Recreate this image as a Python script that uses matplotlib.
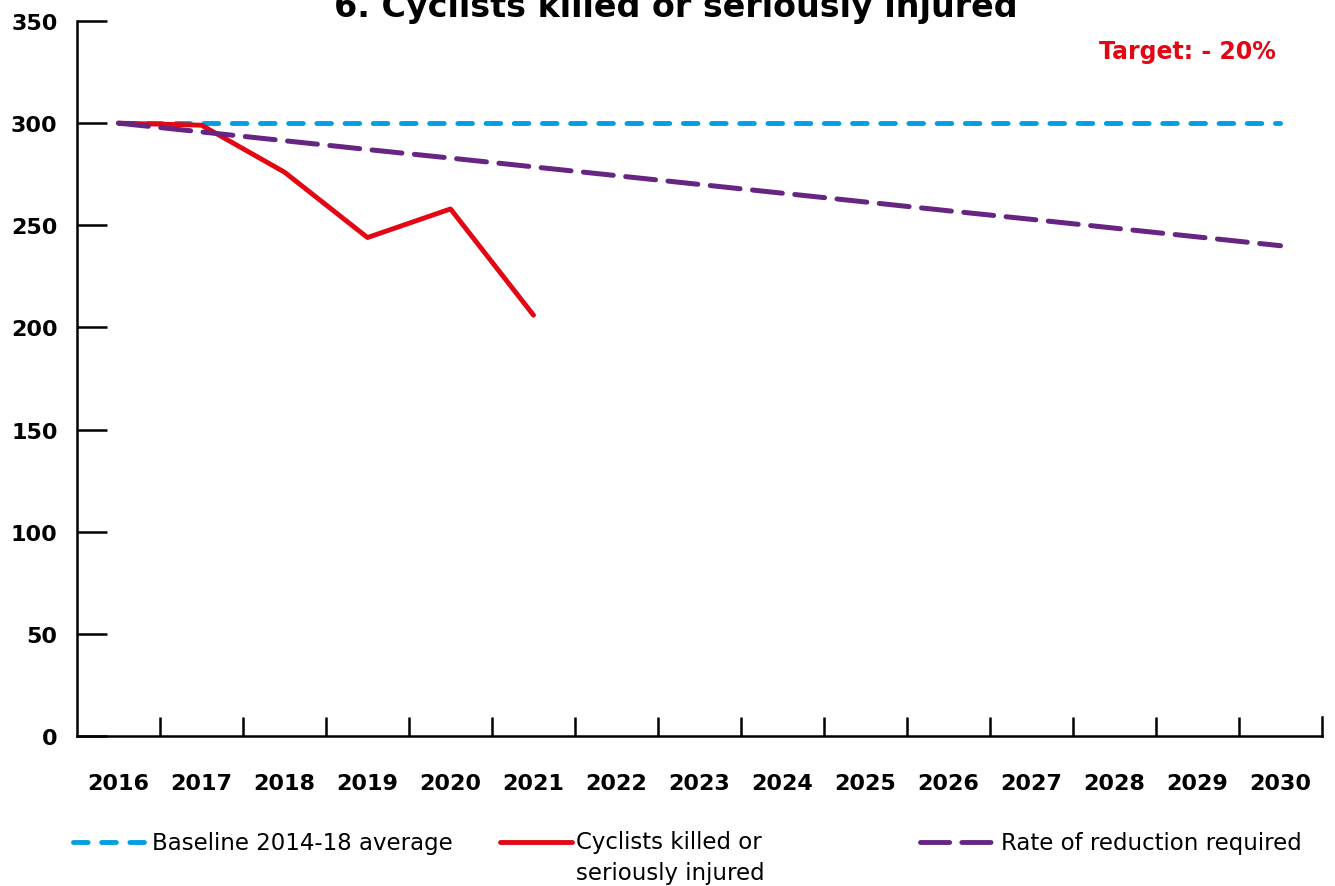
import numpy as np
import matplotlib.pyplot as plt
from matplotlib.lines import Line2D

plt.rcParams['font.family'] = ['DejaVu Sans']

years = [str(y) for y in range(2016, 2031)]
baseline = [300] * 15
casualties = [300, 299, 276, 244, 258, 206]
required = [300, 295.7, 291.4, 287.1, 282.9, 278.6, 274.3, 270, 265.7, 261.4, 257.1, 252.9, 248.6, 244.3, 240]

blue = '#009FE3'
red = '#E30613'
purple = '#662483'

fig = plt.figure(figsize=(13.35, 8.87), dpi=100)
ax = fig.add_axes([77 / 1335, 1 - 737 / 887, (1322 - 77) / 1335, (737 - 22) / 887])

x = np.arange(len(years))
ax.plot(x, baseline, color=blue, lw=3.5, dashes=(3, 2.8), dash_capstyle='round')
ax.plot(x[:len(casualties)], casualties, color=red, lw=3.5, solid_capstyle='round')
ax.plot(x, required, color=purple, lw=3.6, dashes=(6, 2.5), dash_capstyle='round')

ax.set_xlim(-0.5, 14.5)
ax.set_ylim(0, 350)
ax.set_yticks(range(0, 351, 50))
ax.set_xticks(np.arange(0.5, 14.5, 1))
ax.set_xticks(x, minor=True)
ax.set_xticklabels([])
ax.set_xticklabels(years, minor=True)
ax.tick_params(axis='x', which='major', direction='in', length=14, width=1.8)
ax.tick_params(axis='x', which='minor', length=0, pad=27, labelsize=16)
ax.tick_params(axis='y', direction='in', length=21.5, width=1.8, pad=14, labelsize=16)
for lab in ax.get_xticklabels(minor=True) + ax.get_yticklabels():
    lab.set_fontweight('bold')
ax.spines['top'].set_visible(False)
for s in ['left', 'bottom', 'right']:
    ax.spines[s].set_linewidth(1.8)
ax.spines['right'].set_bounds(0, 350 * 19 / 715)

fig.text(676 / 1335, 1 - 17 / 887, '6. Cyclists killed or seriously injured', ha='center',
         va='baseline', fontsize=24, fontweight='bold')
fig.text(1276 / 1335, 1 - 59 / 887, 'Target: - 20%', ha='right', va='baseline',
         fontsize=17, fontweight='bold', color=red)

# legend
ly = 1 - 843 / 887
items = [(73, 147, blue, (3, 2.8), 'Baseline 2014-18 average', 152),
         (500, 572, red, None, 'Cyclists killed or\nseriously injured', 576),
         (920, 993, purple, (6, 2.5), 'Rate of reduction required', 1001)]
for x0, x1, c, d, label, tx in items:
    ln = Line2D([x0 / 1335, x1 / 1335], [ly, ly], transform=fig.transFigure, color=c, lw=3.5,
                solid_capstyle='round', dash_capstyle='round')
    if d:
        ln.set_dashes(d)
    fig.add_artist(ln)
    if '\n' in label:
        fig.text(tx / 1335, 1 - 831 / 887, label, ha='left', va='top', fontsize=16.5,
                 linespacing=1.45)
    else:
        fig.text(tx / 1335, 1 - 850 / 887, label, ha='left', va='baseline', fontsize=16.5)

fig.savefig('out.png', dpi=100)
